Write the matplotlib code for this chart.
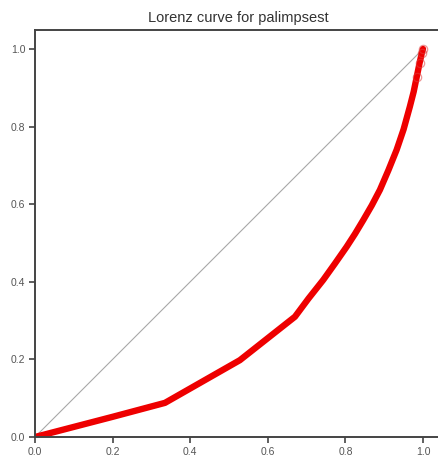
import numpy as np
import matplotlib.pyplot as plt

plt.rcParams['font.family'] = ['Liberation Sans', 'DejaVu Sans']

# cumulative share of population vs cumulative share of the total
pop_share = [0.0, 0.2, 0.335, 0.528, 0.67, 0.705, 0.743, 0.773, 0.803, 0.825, 0.846,
             0.868, 0.889, 0.911, 0.932, 0.95, 0.966, 0.976, 0.984, 0.991, 0.997, 1.0]
cum_share = [0.0, 0.052, 0.088, 0.198, 0.31, 0.357, 0.405, 0.447, 0.49, 0.524, 0.559,
             0.597, 0.637, 0.688, 0.74, 0.793, 0.851, 0.89, 0.929, 0.963, 0.99, 1.0]
ticks = [0.0, 0.2, 0.4, 0.6, 0.8, 1.0]
tick_labels = ['0.0', '0.2', '0.4', '0.6', '0.8', '1.0']

fig = plt.figure(figsize=(4.38, 4.57), dpi=100)
# right edge of the box runs past the image like in the original
ax = fig.add_axes([35/438, 20/457, 1.05*388/438, 407/457])

ax.plot([0, 1], [0, 1], color='#a8a8a8', lw=0.8, zorder=1)
ax.plot(pop_share, cum_share, color='#ee0000', lw=4.6, solid_capstyle='round',
        solid_joinstyle='round', zorder=2)
ax.plot(pop_share[-4:], cum_share[-4:], 'o', ms=6, mfc='none', mec='#e04040',
        mew=0.9, alpha=0.55, zorder=3)

ax.set_xlim(0, 1.05)
ax.set_ylim(0, 1.049)
ax.set_xticks(ticks)
ax.set_xticklabels(tick_labels)
ax.set_yticks(ticks)
ax.set_yticklabels(tick_labels)

for s in ax.spines.values():
    s.set_color('#444444')
    s.set_linewidth(1.4)
ax.tick_params(direction='out', length=4, width=1.2, color='#444444',
               labelsize=7.5, labelcolor='#555555', pad=3)

ax.set_title('Lorenz curve for palimpsest', fontsize=10.5, color='#333333', pad=6)

fig.savefig('out.png', dpi=100)
